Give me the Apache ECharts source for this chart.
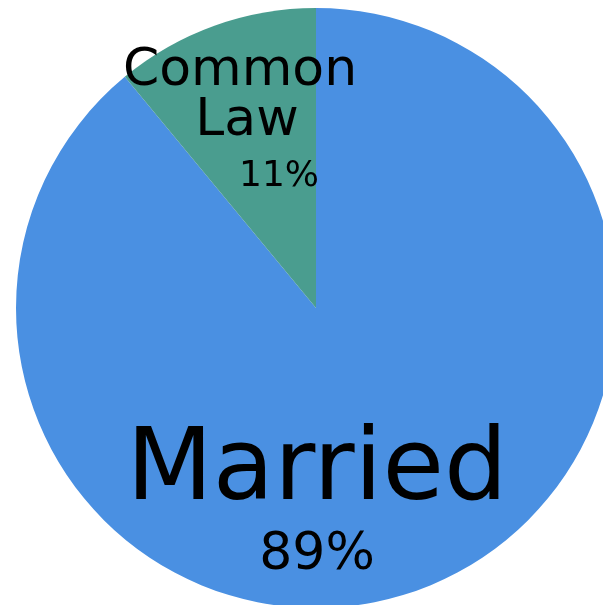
<!DOCTYPE html>
<html>
<head>
<meta charset="utf-8">
<script src="https://cdn.jsdelivr.net/npm/echarts@6/dist/echarts.min.js"></script>
<style>
  html, body { margin: 0; padding: 0; background: #fff; }
  #chart { width: 603px; height: 605px; }
</style>
</head>
<body>
<div id="chart"></div>
<script>
const categories = ['Married', 'Common Law'];
const values = [89, 11];
const colors = ['#4a90e2', '#4a9d8f'];

const chart = echarts.init(document.getElementById('chart'));

// label anchor points (block centres)
const labelPos = [
  { x: 317, y: 505 },
  { x: 240, y: 127 }
];

const option = {
  animation: false,
  backgroundColor: '#fff',
  series: [
    {
      type: 'pie',
      center: [316, 308],
      radius: 300,
      startAngle: 90,
      clockwise: true,
      avoidLabelOverlap: false,
      emphasis: { disabled: true },
      labelLine: { show: false },
      data: categories.map((name, i) => ({
        name: name,
        value: values[i],
        itemStyle: { color: colors[i] },
        label: i === 0 ? {
          show: true,
          formatter: '{n|{b}}\n{p|{d}%}',
          rich: {
            n: { fontSize: 100, lineHeight: 100, fontFamily: 'DejaVu Sans', color: '#000' },
            p: { fontSize: 52, lineHeight: 64, fontFamily: 'DejaVu Sans', color: '#000' }
          }
        } : {
          show: true,
          formatter: function (p) {
            const parts = p.name.split(' ');
            return '{n|' + parts[0] + '}\n{l|' + parts[1] + '}\n{p|' + p.percent + '%}';
          },
          rich: {
            n: { fontSize: 52, lineHeight: 50, fontFamily: 'DejaVu Sans', color: '#000' },
            l: { fontSize: 52, lineHeight: 50, fontFamily: 'DejaVu Sans', color: '#000', padding: [0, 0, 0, 14] },
            p: { fontSize: 36, lineHeight: 62, fontFamily: 'DejaVu Sans', color: '#000', padding: [0, 0, 0, 78] }
          }
        }
      })),
      labelLayout: function (params) {
        const pos = labelPos[params.dataIndex];
        return {
          x: pos.x,
          y: pos.y,
          align: 'center',
          verticalAlign: 'middle'
        };
      }
    }
  ]
};

chart.setOption(option);
</script>
</body>
</html>
